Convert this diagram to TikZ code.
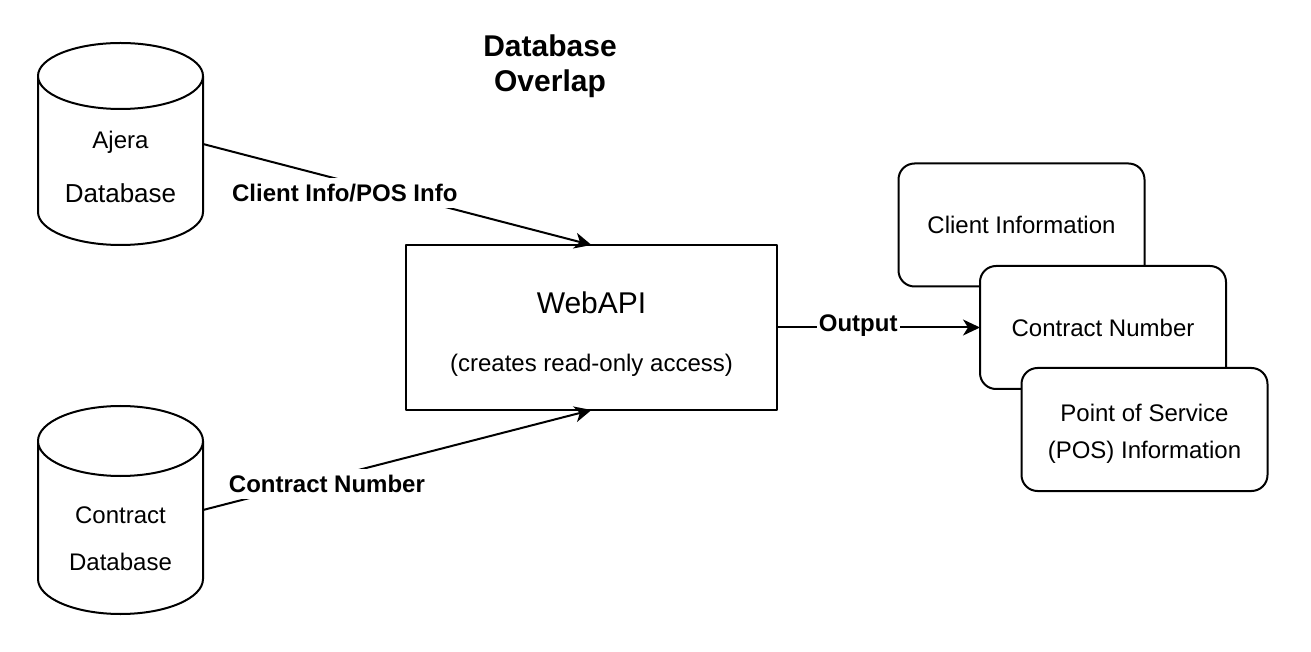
\documentclass[tikz,border=0pt]{standalone}
\usepackage{fontspec}
\setmainfont{Liberation Sans}
\usetikzlibrary{arrows.meta}

\begin{document}
\begin{tikzpicture}[x=1pt, y=1pt, line width=2pt, line join=round,
    db/.style={minimum width=165pt, inner sep=0pt, outer sep=0pt},
    api/.style={draw, minimum width=371pt, minimum height=165pt, inner sep=0pt, outer sep=0pt, align=center},
    info/.style={draw, fill=white, rounded corners=16pt, minimum width=246pt, minimum height=123pt,
      inner sep=0pt, outer sep=0pt, align=center, font=\fontsize{24}{37}\selectfont},
    flow/.style={-{Stealth[length=17pt, width=16pt, inset=5pt]}},
    tag/.style={fill=white, inner xsep=2pt, inner ysep=6pt, font=\bfseries\fontsize{24}{28}\selectfont}]
      \useasboundingbox (0,0) rectangle (1311,651);
      % databases
      \node[db, minimum height=202pt] (ajera) at (120.5,507) {};
      \draw ([yshift=-33pt]ajera.north west) -- ([yshift=33pt]ajera.south west)
        arc[start angle=180, end angle=360, x radius=82.5pt, y radius=33pt]
        -- ([yshift=-33pt]ajera.north east)
        arc[start angle=0, end angle=180, x radius=82.5pt, y radius=33pt]
        arc[start angle=180, end angle=360, x radius=82.5pt, y radius=33pt];
      \node[font=\fontsize{24}{54}\selectfont, align=center] (ajeratext) at (120.5,484)
        {Ajera\\{\fontsize{26}{54}\selectfont Database}};
      \node[db, minimum height=208pt] (contractdb) at (120.5,141) {};
      \draw ([yshift=-35pt]contractdb.north west) -- ([yshift=35pt]contractdb.south west)
        arc[start angle=180, end angle=360, x radius=82.5pt, y radius=35pt]
        -- ([yshift=-35pt]contractdb.north east)
        arc[start angle=0, end angle=180, x radius=82.5pt, y radius=35pt]
        arc[start angle=180, end angle=360, x radius=82.5pt, y radius=35pt];
      \node[font=\fontsize{24}{47}\selectfont, align=center] (contractdbtext) at (120.5,112)
        {Contract\\Database};
      % title and api
      \node[font=\bfseries\fontsize{30}{35}\selectfont, align=center] (title) at (550,585)
        {Database\\Overlap};
      \node[api, font=\fontsize{24}{55}\selectfont] (webapi) at (591.5,323.5)
        {{\fontsize{30}{55}\selectfont\rule{0pt}{35pt}WebAPI}\\[3pt](creates read-only access)};
      % outputs
      \node[info] (client) at (1021.5,426) {Client Information};
      \node[info] (contract) at (1103,323.5) {Contract Number};
      \node[info] (pos) at (1144.5,221.5) {\rule{0pt}{26.5pt}Point of Service\\(POS) Information};
      \begin{scope}[flow]
        \draw (ajera.east) -- (webapi.north)
          node[tag, pos=0.365, yshift=-12.5pt] (clientpos) {Client Info/POS Info};
        \draw (contractdb.east) -- (webapi.south)
          node[tag, pos=0.319, yshift=-6pt] (contractno) {Contract Number};
        \draw (webapi.east) -- (contract.west)
          node[tag, pos=0.40, yshift=2pt] (output) {Output};
      \end{scope}
    \end{tikzpicture}
\end{document}
